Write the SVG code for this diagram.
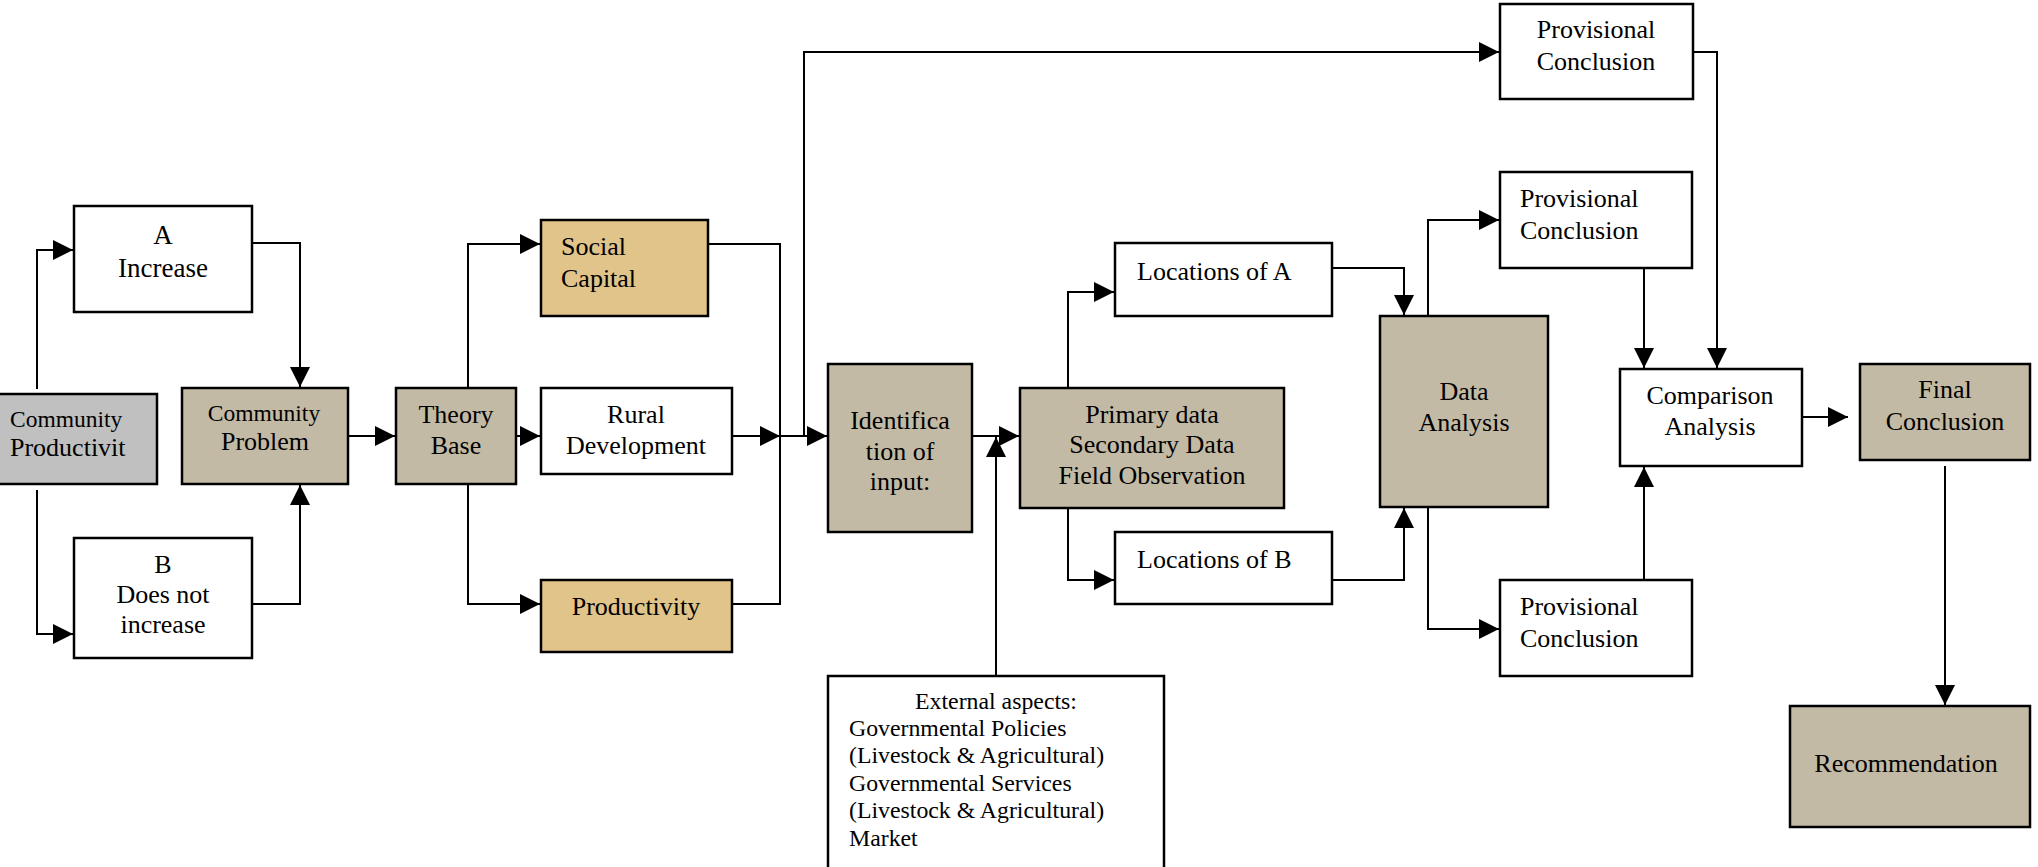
<svg xmlns="http://www.w3.org/2000/svg" width="2038" height="867" viewBox="0 0 2038 867">
  <style>
    .box { stroke: #000; stroke-width: 2.5; }
    .white { fill: #ffffff; }
    .grey { fill: #c0c0c0; }
    .tan { fill: #c3baa5; }
    .gold { fill: #e0c48a; }
    text { font-family: "Liberation Serif", "Times New Roman", serif; font-size: 26px; fill: #000; }
    .c { text-anchor: middle; }
    .sm { font-size: 23.5px; }
    .big { font-size: 27px; }
    .ext { font-size: 23.8px; }
    .wire { fill: none; stroke: #000; stroke-width: 2; }
    .arr { marker-end: url(#head); }
  </style>
  <defs>
    <marker id="head" markerUnits="userSpaceOnUse" markerWidth="20" markerHeight="20" refX="20" refY="10" orient="auto">
      <path d="M0,0 L20,10 L0,20 z" fill="#000"/>
    </marker>
  </defs>

  <!-- Nodes -->
  <g id="community-productivity">
    <rect class="box grey" x="-3" y="394" width="160" height="90"/>
    <text class="sm" x="10" y="427">Community</text>
    <text x="10" y="456">Productivit</text>
  </g>
  <g id="a-increase">
    <rect class="box white" x="74" y="206" width="178" height="106"/>
    <text class="c big" x="163" y="244">A</text>
    <text class="c big" x="163" y="277">Increase</text>
  </g>
  <g id="b-not-increase">
    <rect class="box white" x="74" y="538" width="178" height="120"/>
    <text class="c" x="163" y="573">B</text>
    <text class="c" x="163" y="603">Does not</text>
    <text class="c" x="163" y="633">increase</text>
  </g>
  <g id="community-problem">
    <rect class="box tan" x="182" y="388" width="166" height="96"/>
    <text class="c sm" x="264" y="421">Community</text>
    <text class="c" x="265" y="450">Problem</text>
  </g>
  <g id="theory-base">
    <rect class="box tan" x="396" y="388" width="120" height="96"/>
    <text class="c" x="456" y="423">Theory</text>
    <text class="c" x="456" y="454">Base</text>
  </g>
  <g id="social-capital">
    <rect class="box gold" x="541" y="220" width="167" height="96"/>
    <text x="561" y="255">Social</text>
    <text x="561" y="287">Capital</text>
  </g>
  <g id="rural-development">
    <rect class="box white" x="541" y="388" width="191" height="86"/>
    <text class="c" x="636" y="423">Rural</text>
    <text class="c" x="636" y="454">Development</text>
  </g>
  <g id="productivity">
    <rect class="box gold" x="541" y="580" width="191" height="72"/>
    <text class="c" x="636" y="615">Productivity</text>
  </g>
  <g id="identification">
    <rect class="box tan" x="828" y="364" width="144" height="168"/>
    <text class="c" x="900" y="429">Identifica</text>
    <text class="c" x="900" y="460">tion of</text>
    <text class="c" x="900" y="490">input:</text>
  </g>
  <g id="data-sources">
    <rect class="box tan" x="1020" y="388" width="264" height="120"/>
    <text class="c" x="1152" y="423">Primary data</text>
    <text class="c" x="1152" y="453">Secondary Data</text>
    <text class="c" x="1152" y="484">Field Observation</text>
  </g>
  <g id="external-aspects">
    <rect class="box white" x="828" y="676" width="336" height="210"/>
    <text class="c ext" x="996" y="709">External aspects:</text>
    <text class="ext" x="849" y="736">Governmental Policies</text>
    <text class="ext" x="849" y="763">(Livestock &amp; Agricultural)</text>
    <text class="ext" x="849" y="791">Governmental Services</text>
    <text class="ext" x="849" y="818">(Livestock &amp; Agricultural)</text>
    <text class="ext" x="849" y="846">Market</text>
  </g>
  <g id="locations-a">
    <rect class="box white" x="1115" y="243" width="217" height="73"/>
    <text x="1137" y="280">Locations of A</text>
  </g>
  <g id="locations-b">
    <rect class="box white" x="1115" y="532" width="217" height="72"/>
    <text x="1137" y="568">Locations of B</text>
  </g>
  <g id="data-analysis">
    <rect class="box tan" x="1380" y="316" width="168" height="191"/>
    <text class="c" x="1464" y="400">Data</text>
    <text class="c" x="1464" y="431">Analysis</text>
  </g>
  <g id="provisional-top">
    <rect class="box white" x="1500" y="4" width="193" height="95"/>
    <text class="c" x="1596" y="38">Provisional</text>
    <text class="c" x="1596" y="70">Conclusion</text>
  </g>
  <g id="provisional-mid">
    <rect class="box white" x="1500" y="172" width="192" height="96"/>
    <text x="1520" y="207">Provisional</text>
    <text x="1520" y="239">Conclusion</text>
  </g>
  <g id="provisional-bottom">
    <rect class="box white" x="1500" y="580" width="192" height="96"/>
    <text x="1520" y="615">Provisional</text>
    <text x="1520" y="647">Conclusion</text>
  </g>
  <g id="comparison-analysis">
    <rect class="box white" x="1620" y="369" width="182" height="97"/>
    <text class="c" x="1710" y="404">Comparison</text>
    <text class="c" x="1710" y="435">Analysis</text>
  </g>
  <g id="final-conclusion">
    <rect class="box tan" x="1860" y="364" width="170" height="96"/>
    <text class="c" x="1945" y="398">Final</text>
    <text class="c" x="1945" y="430">Conclusion</text>
  </g>
  <g id="recommendation">
    <rect class="box tan" x="1790" y="706" width="240" height="121"/>
    <text class="c" x="1906" y="772">Recommendation</text>
  </g>

  <!-- Connectors -->
  <g id="connectors">
    <path class="wire arr" d="M37,389 V250 H73"/>
    <path class="wire arr" d="M37,490 V634 H73"/>
    <path class="wire arr" d="M252,243 H300 V387"/>
    <path class="wire arr" d="M252,604 H300 V485"/>
    <path class="wire arr" d="M348,436 H395"/>
    <path class="wire arr" d="M468,388 V244 H540"/>
    <path class="wire arr" d="M516,436 H540"/>
    <path class="wire arr" d="M468,484 V604 H540"/>
    <path class="wire" d="M708,244 H780 V604 H732"/>
    <path class="wire arr" d="M732,436 H780"/>
    <path class="wire arr" d="M780,436 H827"/>
    <path class="wire arr" d="M804,436 V52 H1499"/>
    <path class="wire arr" d="M972,436 H1019"/>
    <path class="wire arr" d="M996,676 V437"/>
    <path class="wire arr" d="M1068,388 V292 H1114"/>
    <path class="wire arr" d="M1068,507 V580 H1114"/>
    <path class="wire arr" d="M1332,268 H1404 V315"/>
    <path class="wire arr" d="M1332,580 H1404 V508"/>
    <path class="wire arr" d="M1428,316 V220 H1499"/>
    <path class="wire arr" d="M1428,507 V629 H1499"/>
    <path class="wire arr" d="M1692,52 H1717 V368"/>
    <path class="wire arr" d="M1644,268 V368"/>
    <path class="wire arr" d="M1644,580 V467"/>
    <path class="wire arr" d="M1802,417 H1848"/>
    <path class="wire arr" d="M1945,466 V705"/>
  </g>
</svg>
